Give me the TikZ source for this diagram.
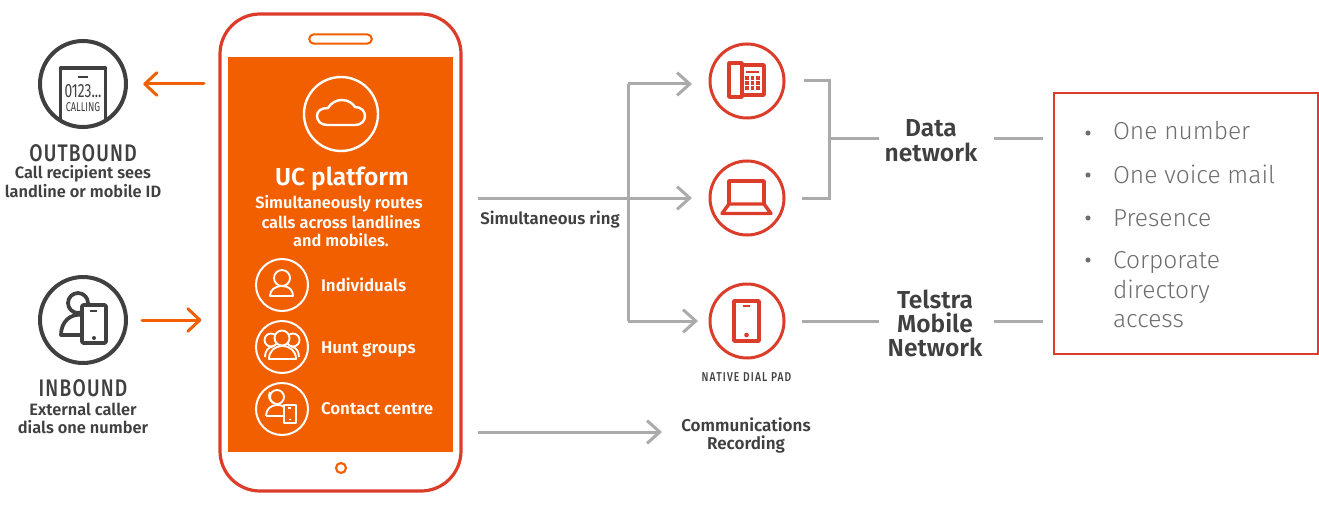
\documentclass[tikz,border=0pt]{standalone}
\usepackage{fontspec}
\usetikzlibrary{arrows.meta,calc}
\setmainfont{Fira Sans}[BoldFont={Fira Sans SemiBold}]
\newfontfamily\lightf{Fira Sans Light}
\newfontfamily\condf{Fira Sans Medium}[FakeStretch=0.8,LetterSpace=5]
\newfontfamily\condg{Fira Sans Medium}[FakeStretch=0.8,LetterSpace=9]
\newfontfamily\condn{Fira Sans}[FakeStretch=0.72]
\newcommand{\fs}[1]{\fontsize{#1}{#1}\selectfont}
\definecolor{tred}{HTML}{DC3D2A}
\definecolor{torange}{HTML}{F25F00}
\definecolor{tgray}{HTML}{ABABAB}
\definecolor{tdark}{HTML}{404040}
\definecolor{tlist}{HTML}{6E6E6E}
\tikzset{
  ring/.style={circle,draw,inner sep=0pt,outer sep=0pt,minimum size=#1*0.75pt},
  darkring/.style={ring=86,draw=tdark,line width=3pt,fill=white},
  redring/.style={ring=74,draw=tred,line width=2.25pt,fill=white},
  whitering/.style={ring=52,draw=white,line width=1.5pt},
  orangeline/.style={draw=torange,line width=2.25pt,line cap=round,-{Straight Barb[length=9pt,width=17pt,round]}},
  grayarrow/.style={draw=tgray,line width=2.25pt,-{Straight Barb[length=9.5pt,width=17pt]}},
  grayline/.style={draw=tgray,line width=2.25pt},
  darkicon/.style={draw=tdark,line width=2.8pt,line join=round},
  redicon/.style={draw=tred,line width=2.6pt,line join=round},
  whiteicon/.style={draw=white,line width=1.4pt,line join=round},
  bluetext/.style={inner sep=0pt,outer sep=0pt,align=center},
  darktext/.style={bluetext,text=tdark,font=\bfseries\fs{12.3}},
  commtext/.style={bluetext,text=tdark,font=\bfseries\fs{12.8}},
  headtext/.style={bluetext,text=tdark,font=\condf\fs{18}},
  nettext/.style={bluetext,text=tdark,font=\bfseries\fs{18.4}},
  whitetext/.style={bluetext,text=white,font=\bfseries\fs{12.3}},
  rowtext/.style={bluetext,text=white,font=\bfseries\fs{12.7},anchor=west},
  listtext/.style={inner sep=0pt,outer sep=0pt,anchor=base west,text=tlist,font=\lightf\fs{18.4}},
  listdot/.style={circle,fill=tlist,inner sep=0pt,minimum size=3.8pt},
}
\begin{document}
\begin{tikzpicture}[x=0.75pt,y=-0.75pt]
\useasboundingbox (0,0) rectangle (1319,506);
\fill[white] (0,0) rectangle (1319,506);
% phone
\node[draw=tred,line width=2.4pt,rounded corners=30pt,minimum width=180.75pt,minimum height=357.75pt,inner sep=0pt,outer sep=0pt] (phone) at (340.5,252.5) {};
\node[fill=torange,minimum width=168.75pt,minimum height=296.25pt,inner sep=0pt,outer sep=0pt] (screen) at (340.5,254.5) {};
\node[draw=torange,line width=1.5pt,rounded corners=3.5pt,minimum width=47pt,minimum height=7pt,inner sep=0pt] (speaker) at (340.5,39) {};
\node[ring=10,draw=torange,line width=1.6pt] (homekey) at (341,468) {};
% cloud
\node[ring=74,draw=white,line width=1.8pt] (cloudc) at (341,114) {};
\draw[draw=white,line width=1.8pt,line join=round] (327,125) .. controls (320,125) and (317,120) .. (317,116) .. controls (317,111) and (321,108) .. (328,108) .. controls (331,103) and (336,100) .. (342,100) .. controls (349,100) and (353,104) .. (355,107) .. controls (361,107) and (365,111) .. (365,116) .. controls (365,121) and (361,125) .. (355,125) -- cycle;
\node[bluetext,text=white,font=\bfseries\fs{18.4}] (uc) at (342,179) {UC platform};
\node[whitetext] (uc1) at (339,204) {Simultaneously routes};
\node[whitetext] (uc2) at (341,222) {calls across landlines};
\node[whitetext] (uc3) at (341,240) {and mobiles.};
% phone inner rows
\node[whitering] (ind) at (282,285) {};
\node[whitering] (hunt) at (282,347) {};
\node[whitering] (cc) at (282,409) {};
\node[rowtext] (indt) at (321,284.5) {Individuals};
\node[rowtext] (huntt) at (321,349) {Hunt groups};
\node[rowtext] (cct) at (321,408.5) {Contact centre};
% individuals icon
\draw[whiteicon] (282,278) circle[radius=8];
\draw[whiteicon] (270,296) .. controls (270,290) and (275,286) .. (282,286) .. controls (289,286) and (293,290) .. (293,296) -- cycle;
% hunt groups icon
\draw[whiteicon] (271,340) circle[radius=6.5];
\draw[whiteicon] (293,340) circle[radius=6.5];
\draw[whiteicon] (265,357) .. controls (265,351) and (268,347) .. (274,346);
\draw[whiteicon] (299,357) .. controls (299,351) and (296,347) .. (290,346);
\draw[whiteicon,fill=torange] (282,338) circle[radius=7.5];
\draw[whiteicon,fill=torange] (269,359) .. controls (269,351) and (275,346) .. (282,346) .. controls (290,346) and (296,351) .. (296,359) -- cycle;
% contact centre icon
\draw[whiteicon] (277,397) circle[radius=7];
\draw[whiteicon] (270,392) .. controls (268,396) and (269,401) .. (274,403);
\draw[whiteicon] (266,416) .. controls (266,409) and (271,405) .. (277,405) .. controls (281,405) and (284,406) .. (285,408);
\draw[whiteicon] (266,416) -- (284,416);
\draw[whiteicon,fill=torange] (284,405) rectangle (296,423);
\draw[whiteicon] (288,408) -- (291,408);
\fill[white] (290,419.5) circle[radius=1];
% left
\node[darkring] (out) at (83,84) {};
\draw[darkicon] (60.5,119) -- (60.5,68) -- (105.5,68) -- (105.5,119);
\draw[darkicon,line width=1.8pt] (78,77) -- (88,77);
\node[bluetext,text=tdark,font=\condn\fs{14.4}] (num) at (83,91) {0123...};
\node[bluetext,text=tdark,font=\condn\fs{9.6}] (calling) at (83,107) {CALLING};
\node[headtext] (outh) at (83,153) {OUTBOUND};
\node[darktext] (out1) at (83,174) {Call recipient sees};
\node[darktext] (out2) at (83,191.5) {landline or mobile ID};
\node[darkring] (inb) at (83,320) {};
\draw[darkicon] (78,303) circle[radius=10];
\draw[darkicon] (83,315) .. controls (70,313) and (61,322) .. (61,335) -- (82,335);
\draw[darkicon,fill=white,rounded corners=1pt] (82,305) rectangle (106,343);
\draw[darkicon,line width=1.8pt] (90,311) -- (97,311);
\fill[tdark] (94,338) circle[radius=2];
\node[headtext] (inh) at (83,388) {INBOUND};
\node[darktext] (in1) at (83,409) {External caller};
\node[darktext] (in2) at (83,427.5) {dials one number};
% left arrows
\draw[orangeline,shorten <=12pt,shorten >=13pt] (phone.west |- out) -- (out.east);
\draw[orangeline,shorten <=12pt,shorten >=14pt] (inb.east) -- (phone.west |- inb);
% red circles
\node[redring] (desk) at (747,81) {};
\node[redring] (lap) at (747,198) {};
\node[redring] (mob) at (747,321) {};
% desk phone icon
\draw[redicon] (742,65) -- (764,65) -- (764,95) -- (742,95);
\draw[redicon] (729,63) rectangle (742,97);
\draw[draw=tred,line width=1.6pt] (746,72) -- (759,72);
\foreach \kx in {747,752.5,758} \foreach \ky in {78,83,88} \fill[tred] (\kx-1.7,\ky-1.7) rectangle (\kx+1.7,\ky+1.7);
% laptop icon
\draw[redicon] (729,204) -- (729,181) -- (764,181) -- (764,204);
\draw[redicon] (729,204) -- (764,204) -- (771,213.5) -- (722,213.5) -- cycle;
% mobile icon
\draw[redicon] (734,301) rectangle (759,341);
\draw[draw=tred,line width=1.8pt] (743,306) -- (750,306);
\fill[tred] (746.5,335) circle[radius=2.3];
\node[bluetext,text=tdark,font=\condg\fs{9.6}] (native) at (746.5,377) {NATIVE DIAL PAD};
% gray connectors
\coordinate (tr) at (628,198);
\coordinate (tt) at (628,84);
\coordinate (tb) at (628,321);
\coordinate (deskin) at (710,84);
\draw[grayline,shorten <=12.75pt] (phone.east |- lap) -- (tr);
\draw[grayarrow,shorten >=13.5pt] (tr) -- (lap.west);
\draw[grayline,line join=miter] (tt) -- (tb);
\draw[grayarrow,shorten >=13.5pt] (tt) -- (deskin);
\draw[grayarrow,shorten >=9pt] (tb) -- (mob.west);
\node[darktext,font=\bfseries\fs{12.6}] (simring) at (550,220) {Simultaneous ring};
\node[commtext] (comm1) at (746,424.5) {Communications};
\node[commtext] (comm2) at (746,444.5) {Recording};
\coordinate (commin) at (678,432);
\draw[grayarrow,shorten <=12.75pt,shorten >=12pt] (phone.east |- commin) -- (commin);
% right
\node[nettext] (data1) at (931,128) {Data};
\node[nettext] (data2) at (931,152) {network};
\node[nettext] (tel1) at (935,299) {Telstra};
\node[nettext] (tel2) at (935,323) {Mobile};
\node[nettext] (tel3) at (935,347) {Network};
\coordinate (datamid) at (931,139);
\coordinate (telmid) at (935,321);
\node[draw=tred,line width=2pt,minimum width=198pt,minimum height=195.75pt,inner sep=0pt,outer sep=0pt] (box) at (1186,223.5) {};
\coordinate (br) at (829,139);
\draw[grayline,shorten <=15pt,shorten >=13.5pt] (desk.east) -- (desk.east -| br) -- (lap.east -| br) -- (lap.east);
\draw[grayline,shorten >=39pt] (br) -- (datamid);
\draw[grayline,shorten <=47pt,shorten >=8pt] (datamid) -- (box.west |- datamid);
\draw[grayline,shorten <=13.5pt,shorten >=42pt] (mob.east) -- (telmid);
\draw[grayline,shorten <=44pt,shorten >=8pt] (telmid) -- (box.west |- telmid);
\node[listdot] (d1) at (1088,133) {};
\node[listdot] (d2) at (1088,175) {};
\node[listdot] (d3) at (1088,218) {};
\node[listdot] (d4) at (1088,260) {};
\node[listtext] (l1) at (1113,140) {One number};
\node[listtext] (l2) at (1113,183) {One voice mail};
\node[listtext] (l3) at (1113,226) {Presence};
\node[listtext] (l4) at (1113,268) {Corporate};
\node[listtext] (l5) at (1113,298) {directory};
\node[listtext] (l6) at (1113,327) {access};
\end{tikzpicture}
\end{document}
